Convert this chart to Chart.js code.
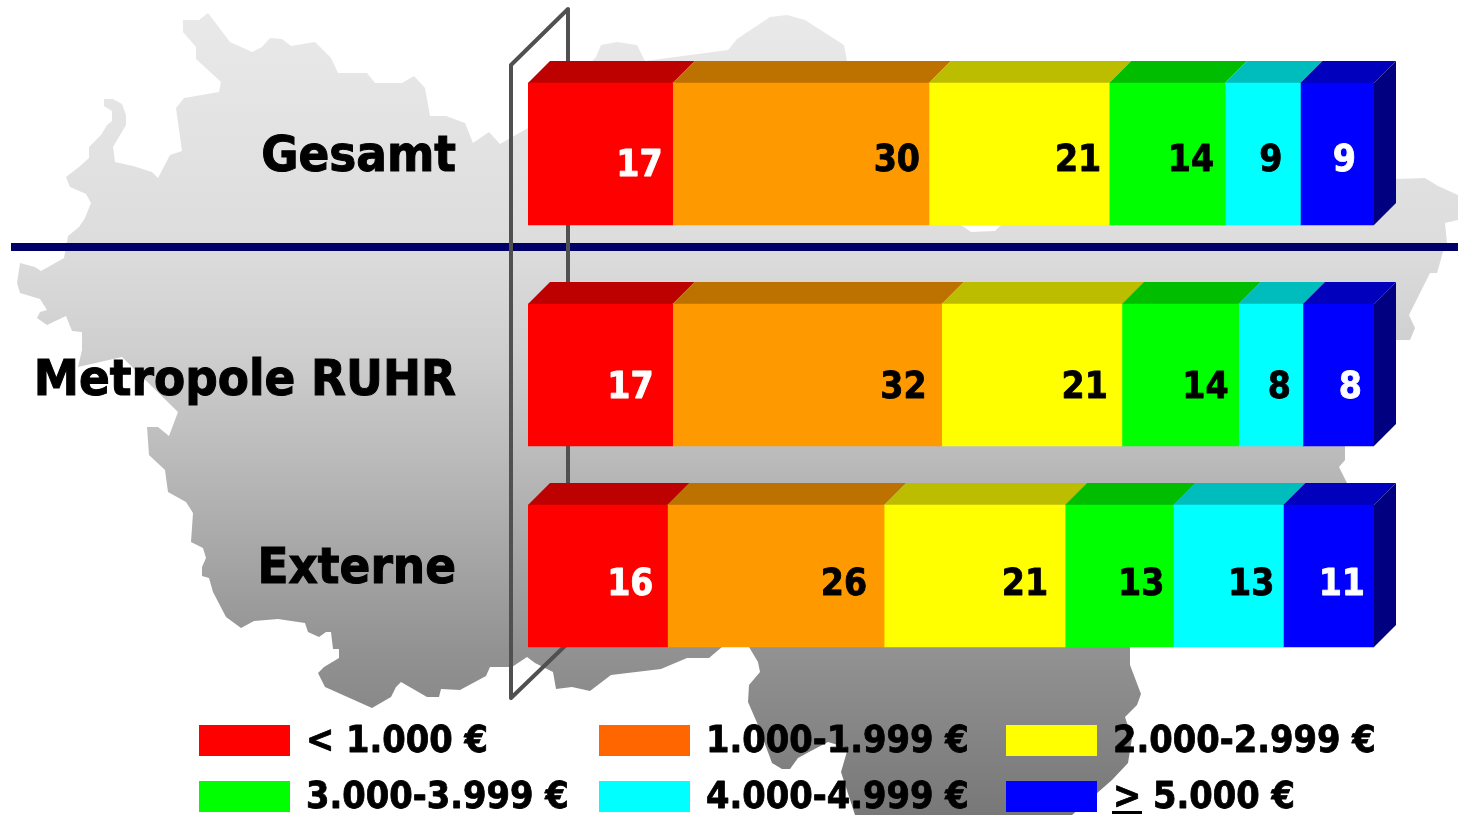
<!DOCTYPE html>
<html><head><meta charset="utf-8">
<style>html,body{margin:0;padding:0;background:#fff;overflow:hidden}canvas{display:block}</style>
<script src="https://cdn.jsdelivr.net/npm/chart.js@4"></script>
</head><body><canvas id="c" width="1458" height="815"></canvas>
<script>
const categories = ['Gesamt', 'Metropole RUHR', 'Externe'];
const bandLabels = ['< 1.000 €', '1.000-1.999 €', '2.000-2.999 €', '3.000-3.999 €', '4.000-4.999 €', '> 5.000 €'];
const under1000 = [17.1, 17.1, 16.49];
const from1000 = [30.3, 31.8, 25.6];
const from2000 = [21.3, 21.3, 21.4];
const from3000 = [13.7, 13.8, 12.8];
const from4000 = [8.9, 7.6, 13.0];
const over5000 = [8.7, 8.4, 10.71];

const FONT = '"DejaVu Sans Condensed","DejaVu Sans",sans-serif';
const barColors = ['#FF0000', '#FF9900', '#FFFF00', '#00FF00', '#00FFFF', '#0000FF'];
const topColors = ['#BD0000', '#BD7200', '#BDBD00', '#00BD00', '#00BDBD', '#0000BD'];
const legendColors = ['#FF0000', '#FF6600', '#FFFF00', '#00FF00', '#00FFFF', '#0000FF'];
const labelColors = ['#fff', '#000', '#000', '#000', '#000', '#fff'];
const DEPTH = 22, SIDE = '#000080';
const rowShift = [0, 10, 0];
const tickShift = [4, 17, -6];
const labelInset = [[10,9,8,11,18,18],[19,15,14,10,12,12],[14,17,17,9,9,9]];
const labelDrop = [[9,4,4,4,4,4],[10,10,10,10,10,10],[6,6,6,6,6,6]];
const legendSlots = [[199,725],[599,725],[1006,725],[199,781],[599,781],[1006,781]];

const mapOutline = [[183,20],[199,20],[208,13],[230,42],[252,52],[262,47],[270,38],[282,39],[291,46],[315,42],[331,58],[338,73],[367,73],[375,83],[402,83],[414,76],[425,88],[430,116],[446,116],[465,123],[473,143],[489,132],[500,144],[528,128],[596,57],[601,45],[617,42],[637,45],[645,61],[728,50],[737,39],[770,17],[787,15],[805,20],[844,45],[847,61],[1396,179],[1425,178],[1438,186],[1458,195],[1458,220],[1445,223],[1447,243],[1443,252],[1437,273],[1430,273],[1409,315],[1415,328],[1410,340],[1380,340],[1345,446],[1345,460],[1339,467],[1347,483],[1130,647],[1130,665],[1141,694],[1137,705],[1125,717],[1132,738],[1128,763],[1112,780],[1072,815],[855,815],[841,772],[848,748],[828,742],[809,752],[798,758],[790,769],[782,769],[772,763],[758,725],[748,702],[749,685],[760,672],[758,662],[749,647],[745,635],[725,635],[722,647],[709,658],[687,658],[661,669],[611,675],[590,691],[572,687],[556,689],[553,672],[535,663],[527,657],[512,667],[490,667],[486,676],[460,690],[441,689],[439,697],[427,697],[401,682],[396,687],[391,697],[372,708],[325,687],[318,673],[324,667],[339,658],[339,649],[333,649],[331,632],[326,632],[319,637],[308,632],[305,623],[278,619],[254,621],[241,628],[226,617],[213,592],[209,578],[202,576],[202,567],[206,558],[203,548],[191,542],[193,513],[186,502],[168,492],[165,470],[149,455],[147,427],[158,427],[169,436],[178,412],[122,357],[78,367],[82,350],[82,332],[72,331],[66,316],[47,325],[37,318],[40,312],[47,310],[40,299],[20,293],[17,283],[20,263],[35,267],[41,271],[64,258],[68,236],[79,227],[85,218],[91,203],[86,194],[70,187],[66,177],[79,167],[89,158],[89,147],[101,135],[107,125],[112,121],[112,111],[104,106],[104,99],[113,99],[122,104],[126,115],[126,125],[113,147],[115,162],[133,166],[152,172],[158,178],[170,155],[182,151],[176,108],[184,98],[219,92],[221,82],[196,59],[196,47],[183,32]];
const mapHole = [[961,225],[971,232],[995,231],[1001,225],[1001,215],[961,215]];

function poly(ctx, pts){ctx.beginPath();pts.forEach((p,i)=>i?ctx.lineTo(p[0],p[1]):ctx.moveTo(p[0],p[1]));ctx.closePath();}
function boldText(ctx,t,x,y,w){ctx.lineWidth=w;ctx.strokeStyle=ctx.fillStyle;ctx.lineJoin='round';ctx.strokeText(t,x,y);ctx.fillText(t,x,y);}

const backdrop = {
  id:'backdrop',
  beforeDraw(chart){
    const ctx=chart.ctx; ctx.save();
    const g=ctx.createLinearGradient(0,13,0,815);
    [[0,'#e9e9e9'],[.283,'#dddddd'],[.42,'#cfcfcf'],[.545,'#bcbcbc'],[.795,'#929292'],[1,'#787878']].forEach(s=>g.addColorStop(s[0],s[1]));
    ctx.fillStyle=g; poly(ctx,mapOutline); ctx.fill();
    ctx.fillStyle='#fff'; poly(ctx,mapHole); ctx.fill();
    ctx.fillStyle='#000066'; ctx.fillRect(11,243,1447,8);
    ctx.strokeStyle='#505050'; ctx.lineWidth=4; ctx.lineJoin='round';
    poly(ctx,[[511,65],[568,9],[568,643],[511,698]]); ctx.stroke();
    ctx.restore();
    const y=chart.scales.y;
    y.getLabelItems(chart.chartArea).forEach((it,i)=>{it.options.translation=[it.options.translation[0],it.options.translation[1]+tickShift[i]];});
  }
};
const shiftRows = {
  id:'shiftRows',
  afterDatasetsUpdate(chart){
    chart.data.datasets.forEach((d,di)=>chart.getDatasetMeta(di).data.forEach((el,i)=>{el.y+=rowShift[i];}));
  }
};
const solid = {
  id:'solid',
  beforeDatasetsDraw(chart){
    const ctx=chart.ctx; ctx.save();
    chart.data.datasets.forEach((d,di)=>chart.getDatasetMeta(di).data.forEach(el=>{
      const t=el.y-el.height/2,l=el.base,r=el.x;
      ctx.fillStyle=topColors[di];
      poly(ctx,[[l,t],[l+DEPTH,t-DEPTH],[r+DEPTH,t-DEPTH],[r,t]]); ctx.fill();
      if(di===chart.data.datasets.length-1){
        ctx.fillStyle=SIDE;
        poly(ctx,[[r,t],[r+DEPTH,t-DEPTH],[r+DEPTH,t-DEPTH+el.height],[r,t+el.height]]); ctx.fill();
      }
    }));
    ctx.restore();
  },
  afterDatasetsDraw(chart){
    const ctx=chart.ctx; ctx.save();
    ctx.font='bold 37px '+FONT; ctx.textAlign='right'; ctx.textBaseline='alphabetic';
    chart.data.datasets.forEach((d,di)=>chart.getDatasetMeta(di).data.forEach((el,i)=>{
      ctx.fillStyle=labelColors[di];
      boldText(ctx,String(Math.round(d.data[i])),el.x-labelInset[i][di],el.y+labelDrop[i][di]+13,.8);
    }));
    ctx.restore();
  }
};
const legendGrid = {
  id:'legendGrid',
  afterDraw(chart){
    const ctx=chart.ctx; ctx.save();
    ctx.font='bold 37.5px '+FONT; ctx.textAlign='left'; ctx.textBaseline='alphabetic';
    bandLabels.forEach((t,i)=>{
      const [x,y]=legendSlots[i];
      ctx.fillStyle=legendColors[i]; ctx.fillRect(x,y,91,31);
      ctx.fillStyle='#000'; boldText(ctx,t,x+107,y+27,.8);
      if(t.charAt(0)==='>') ctx.fillRect(x+106,y+30,30,3);
    });
    ctx.restore();
  }
};

const series=[under1000,from1000,from2000,from3000,from4000,over5000];
new Chart(document.getElementById('c'),{
  type:'bar',
  data:{labels:categories,datasets:series.map((s,i)=>({label:bandLabels[i],data:s,backgroundColor:barColors[i],borderWidth:0,barThickness:142}))},
  plugins:[backdrop,shiftRows,solid,legendGrid],
  options:{
    indexAxis:'y',responsive:false,animation:false,devicePixelRatio:1,
    layout:{padding:{top:48.5,bottom:133.5,left:0,right:84}},
    plugins:{legend:{display:false},tooltip:{enabled:false},title:{display:false}},
    scales:{
      x:{stacked:true,display:false,min:0,max:100},
      y:{stacked:true,offset:true,border:{display:false},grid:{display:false,drawTicks:false},
         afterFit(s){s.width=528;s.paddingTop=0;s.paddingBottom=0;},
         ticks:{autoSkip:false,padding:72,color:'#000',textStrokeColor:'#000',textStrokeWidth:1,font:{family:FONT,size:50.5,weight:'bold'}}}
    }
  }
});
</script></body></html>
